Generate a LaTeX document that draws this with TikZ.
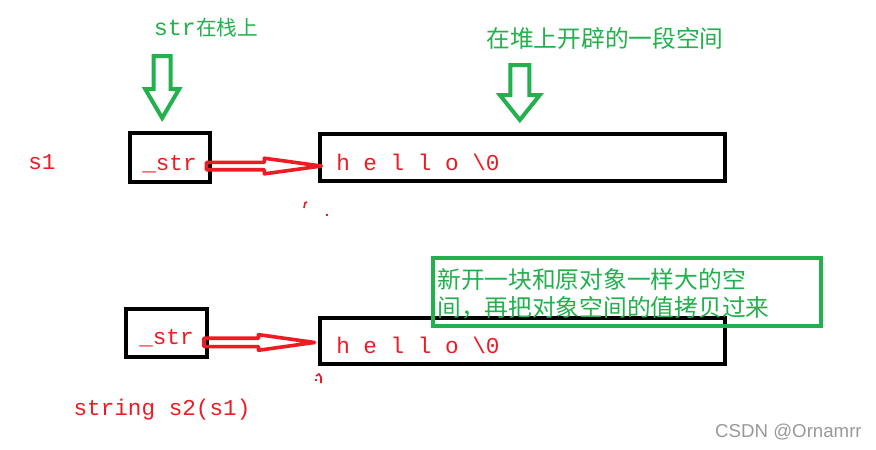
\documentclass[tikz,border=0pt]{standalone}
\usepackage{fontspec}
\setmonofont{Liberation Mono}
\setsansfont{Liberation Sans}
\newfontfamily\cjk{Noto Sans CJK SC}
\usetikzlibrary{calc}
\definecolor{paintred}{RGB}{237,28,36}
\definecolor{paintgreen}{RGB}{34,177,76}
\tikzset{
  membox/.style={draw=black, line width=3pt, inner sep=0pt},
  notebox/.style={draw=paintgreen, line width=3pt, inner sep=0pt},
  redtxt/.style={text=paintred, font=\ttfamily\fontsize{17}{20}\selectfont, inner sep=0pt},
  greentxt/.style={text=paintgreen, font=\cjk\fontsize{17.8}{21}\selectfont, inner sep=0pt},
  greenarrow/.style={draw=paintgreen, line width=3pt, line join=miter},
  redarrow/.style={draw=paintred, line width=2.7pt, line join=round},
  speck/.style={draw=paintred, line width=1.2pt}
}
% hollow arrow pointing down: tip, shaft top, head base, shaft half width, head half width
\newcommand{\hollowdown}[5]{%
  \draw[greenarrow] ($(#1)+(-#4,-#2)$) -- ($(#1)+(#4,-#2)$) -- ($(#1)+(#4,-#3)$)
    -- ($(#1)+(#5,-#3)$) -- (#1) -- ($(#1)+(-#5,-#3)$) -- ($(#1)+(-#4,-#3)$) -- cycle;}
% hollow arrow pointing right: start, tip, head length, shaft half width, head half width
\newcommand{\hollowright}[5]{%
  \draw[redarrow] ($(#1)+(0,-#4)$) -- ($(#2)+(-#3,-#4)$) -- ($(#2)+(-#3,-#5)$) -- (#2)
    -- ($(#2)+(-#3,#5)$) -- ($(#2)+(-#3,#4)$) -- ($(#1)+(0,#4)$) -- cycle;}
\begin{document}
\begin{tikzpicture}[x=0.75pt,y=-0.75pt]
\fill[white] (0,0) rectangle (876,450);

% s1
\node[membox, minimum width=60pt, minimum height=36.75pt] (str1) at (169.5,157.5) {};
\node[membox, minimum width=303.75pt, minimum height=35.25pt] (heap1) at (522.5,157.5) {};
\node[redtxt, anchor=base] (str1txt) at ([yshift=-10pt]str1.center) {\_str};
\node[redtxt, anchor=base west] (val1) at ([xshift=13.5pt, yshift=-10pt]heap1.west) {h e l l o \textbackslash0};
\node[redtxt] (s1) at (42,162) {s1};
\coordinate (a1s) at ([xshift=-3.75pt, yshift=-6.4pt]str1.east);
\coordinate (a1e) at ([xshift=2.5pt]heap1.west |- a1s);
\hollowright{a1s}{a1e}{57}{3.7}{7.8}

% labels on top
\node[greentxt, font=\ttfamily\fontsize{17.5}{20}\selectfont] (stacklbl) at (206,28) {str{\cjk\fontsize{15.5}{18}\selectfont 在栈上}};
\node[greentxt] (heaplbl) at (605,38) {在堆上开辟的一段空间};
\coordinate (g1) at ([xshift=-5.5pt, yshift=9.75pt]str1.north);
\hollowdown{g1}{62}{29}{8.5}{17}
\coordinate (g2) at ([xshift=-2pt, yshift=9pt]heap1.north);
\hollowdown{g2}{55}{25}{9.5}{20}

% s2
\node[membox, minimum width=60.75pt, minimum height=36pt] (str2) at (166.5,333) {};
\node[membox, minimum width=303.75pt, minimum height=34.5pt] (heap2) at (522.5,341) {};
\node[redtxt, anchor=base] (str2txt) at ([yshift=-8.25pt]str2.center) {\_str};
\node[redtxt, anchor=base west] (val2) at ([xshift=13.5pt, yshift=-9pt]heap2.west) {h e l l o \textbackslash0};
\node[redtxt] (s2) at (162,410) {string s2(s1)};
\coordinate (a2s) at ([xshift=-3.75pt, yshift=-7.1pt]str2.east);
\coordinate (a2e) at ([xshift=-2.6pt]heap2.west |- a2s);
\hollowright{a2s}{a2e}{56}{4.2}{7.8}

% note
\node[notebox, minimum width=291pt, minimum height=51pt] (note) at (627,292) {};
\node[greentxt, anchor=north west, align=left] (notetxt) at ([xshift=4.5pt, yshift=-9pt]note.north west)
  {新开一块和原对象一样大的空\\间，再把对象空间的值拷贝过来};

% specks
\draw[speck] (304,208) -- (305,203) -- (307,202);
\fill[paintred] (326,214) rectangle (328,216);
\draw[speck] (316,376) -- (319,374) -- (321,377) -- (321,383);
\fill[paintred] (315,379) rectangle (317,381);

\node[anchor=east, text=black!40, font=\sffamily\fontsize{14}{16}\selectfont, inner sep=0pt] (mark) at (862,432) {CSDN @Ornamrr};
\end{tikzpicture}
\end{document}
